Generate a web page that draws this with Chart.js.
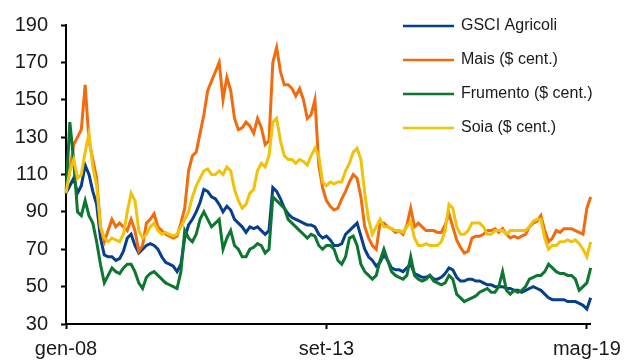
<!DOCTYPE html>
<html>
<head>
<meta charset="utf-8">
<script src="https://cdn.jsdelivr.net/npm/chart.js@4/dist/chart.umd.min.js"></script>
<style>
  body { margin: 0; background: #fff; }
  canvas { display: block; }
</style>
</head>
<body>
<canvas id="grafico" width="629" height="360"></canvas>
<script>
// valori mensili, gen-08 .. giu-19 (indice, gen-08 = 100 circa)
const gsci = [
    100, 104, 108, 100, 104, 115, 110, 101, 94, 76, 67, 66,
    66, 64, 65, 69, 76, 78, 72, 68, 70, 72, 73, 72,
    70, 66, 63, 62, 61, 58, 62, 76, 83, 86, 90, 95,
    102, 101, 98, 97, 94, 90, 93, 91, 86, 84, 82, 79,
    82, 81, 82, 80, 78, 80, 103, 101, 97, 92, 89, 87,
    86, 85, 84, 83, 83, 82, 78, 76, 77, 75, 72, 72,
    73, 78, 80, 82, 84, 77, 70, 66, 64, 61, 63, 67,
    64, 60, 59, 59, 58, 60, 62, 57, 56, 55, 55, 56,
    54, 54, 55, 57, 60, 59, 55, 53, 53, 54, 54, 53,
    53, 52, 51, 51, 50, 50, 50, 49, 49, 48, 48, 47,
    48, 49, 50, 49, 48, 46, 44, 43, 43, 43, 43, 42,
    42, 42, 41, 40, 38, 44
];

const mais = [
    102, 112, 126, 130, 134, 158, 128, 118, 108, 82, 74, 80,
    86, 82, 84, 82, 80, 86, 80, 69, 72, 84, 86, 89,
    82, 80, 78, 77, 76, 77, 84, 92, 112, 120, 122, 132,
    142, 155, 160, 165, 170, 150, 162, 155, 140, 134, 135, 138,
    136, 132, 140, 135, 126, 128, 170, 178, 165, 158, 158, 156,
    152, 156, 150, 140, 142, 150, 115, 103, 96, 93, 91, 92,
    97, 101, 106, 110, 108, 98, 82, 76, 72, 70, 84, 84,
    82, 81, 79, 80, 78, 83, 92, 82, 84, 82, 80, 80,
    80, 79, 79, 83, 89, 82, 75, 71, 68, 69, 76, 77,
    77, 78, 80, 80, 81, 79, 81, 78, 76, 77, 76, 77,
    78, 82, 84, 85, 88, 80, 74, 76, 80, 79, 81, 81,
    81, 80, 79, 78, 92, 98
];

const frumento = [
    100, 138, 118, 90, 88, 96, 88, 84, 74, 62, 52, 56,
    60, 58, 57, 60, 62, 62, 58, 52, 49, 55, 57, 58,
    56, 54, 52, 51, 50, 49, 58, 80, 76, 74, 78, 86,
    90, 86, 82, 84, 86, 70, 76, 80, 72, 70, 66, 66,
    70, 71, 73, 72, 68, 70, 98, 96, 94, 92, 86, 84,
    82, 80, 78, 76, 78, 77, 72, 70, 72, 72, 70, 64,
    62, 66, 76, 77, 72, 62, 58, 56, 54, 56, 64, 70,
    64, 58, 56, 55, 54, 56, 66, 56, 54, 53, 54, 56,
    53, 52, 51, 52, 56, 54, 46, 44, 42, 43, 44, 45,
    47, 48, 49, 47, 47, 50, 58, 48, 46, 48, 47, 48,
    50, 54, 55, 56, 56, 58, 62, 60, 58, 57, 57, 56,
    56, 54, 48, 50, 52, 60
];

const soia = [
    100, 112, 118, 108, 110, 122, 132, 114, 104, 82, 76, 74,
    76, 75, 74, 78, 90, 100, 96, 80, 76, 78, 82, 84,
    80, 78, 79, 78, 77, 78, 82, 86, 90, 98, 104, 108,
    112, 113, 110, 110, 112, 110, 114, 112, 102, 96, 92, 94,
    100, 102, 112, 116, 114, 120, 138, 140, 128, 120, 118, 118,
    116, 118, 117, 115, 120, 124, 120, 106, 104, 106, 105, 106,
    106, 112, 116, 122, 124, 118, 100, 86, 78, 82, 86, 82,
    82, 81, 80, 80, 79, 82, 85, 76, 72, 72, 73, 72,
    72, 72, 74, 80, 94, 92, 82, 78, 78, 80, 84, 84,
    84, 82, 78, 78, 80, 80, 80, 78, 80, 80, 80, 80,
    80, 82, 85, 86, 86, 76, 70, 72, 72, 74, 74, 75,
    74, 75, 73, 70, 66, 74
];

const mesi = ['gen', 'feb', 'mar', 'apr', 'mag', 'giu', 'lug', 'ago', 'set', 'ott', 'nov', 'dic'];
const tickLabels = ['gen-08', 'set-13', 'mag-19'];

const labels = [];
for (let i = 0; i < gsci.length; i++) {
    const anno = String(8 + Math.floor(i / 12)).padStart(2, '0');
    labels.push(mesi[i % 12] + '-' + anno);
}

const font = '"Liberation Sans", Arial, sans-serif';
const testo = '#1a1a1a';

// legenda disegnata a mano, dentro l'area del grafico in alto a destra
const legenda = {
    id: 'legenda',
    afterDraw(chart) {
        const ctx = chart.ctx;
        ctx.save();
        ctx.font = '16px ' + font;
        ctx.textBaseline = 'middle';
        chart.data.datasets.forEach((ds, i) => {
            const y = 26 + i * 34;
            ctx.strokeStyle = ds.borderColor;
            ctx.lineWidth = 2.5;
            ctx.beginPath();
            ctx.moveTo(403, y);
            ctx.lineTo(454, y);
            ctx.stroke();
            ctx.fillStyle = testo;
            ctx.fillText(ds.label, 461, y);
        });
        ctx.restore();
    }
};

const data = {
    labels: labels,
    datasets: [
        { label: 'GSCI Agricoli', data: gsci, borderColor: '#063F8C', order: 4 },
        { label: 'Mais ($ cent.)', data: mais, borderColor: '#F26B0F', order: 3 },
        { label: 'Frumento ($ cent.)', data: frumento, borderColor: '#0E7630', order: 2 },
        { label: 'Soia ($ cent.)', data: soia, borderColor: '#F0C20A', order: 1 },
    ]
};

const config = {
    type: 'line',
    data: data,
    options: {
        responsive: false,
        animation: false,
        layout: { padding: { top: 24, right: 31, left: 0, bottom: 0 } },
        elements: {
            point: { radius: 0 },
            line: { borderWidth: 3, tension: 0 }
        },
        plugins: {
            legend: { display: false },
            tooltip: { enabled: false }
        },
        scales: {
            x: {
                offset: false,
                grid: { drawOnChartArea: false, tickLength: 5, tickWidth: 2, tickColor: '#000' },
                border: { color: '#000', width: 2 },
                ticks: {
                    autoSkip: false,
                    maxRotation: 0,
                    padding: 8,
                    color: testo,
                    font: { size: 20, family: font }
                },
                afterBuildTicks(scale) {
                    scale.ticks = scale.ticks.filter(t => tickLabels.includes(labels[t.value]));
                },
                afterFit(scale) { scale.height = 36; }
            },
            y: {
                min: 30,
                max: 190,
                grid: { drawOnChartArea: false, tickLength: 5, tickWidth: 2, tickColor: '#000' },
                border: { color: '#000', width: 2 },
                ticks: {
                    stepSize: 20,
                    padding: 13,
                    color: testo,
                    font: { size: 20, family: font }
                },
                afterFit(scale) { scale.width = 66; }
            }
        }
    },
    plugins: [legenda]
};

const grafico = new Chart(document.getElementById('grafico'), config);
</script>
</body>
</html>
